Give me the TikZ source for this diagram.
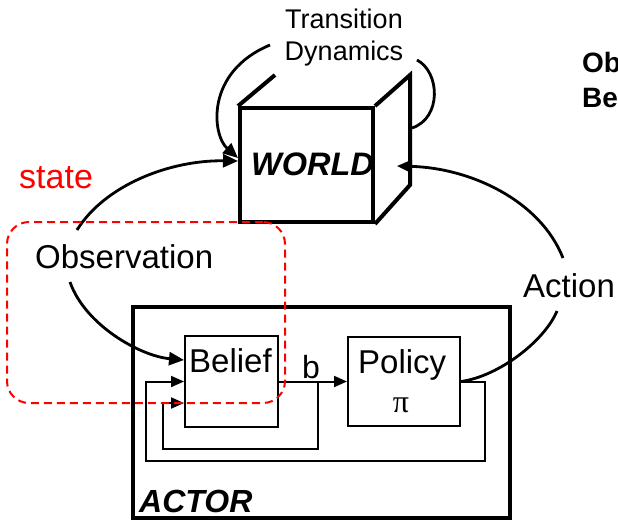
\documentclass[tikz,border=0pt]{standalone}
\usepackage{fontspec}
\setmainfont{Liberation Sans}
\newfontfamily\greekserif{Liberation Serif}
\usetikzlibrary{arrows.meta,calc}

\newcommand{\fs}[1]{\fontsize{#1pt}{#1pt}\selectfont}

\begin{document}
\begin{tikzpicture}[x=1pt,y=-1pt,
  lbl/.style={inner sep=0pt, anchor=base west},
  heavy/.style={line width=4pt, line join=miter},
  arcline/.style={line width=2.8pt},
  thinline/.style={line width=2pt},
  bigtip/.style={-{Triangle[length=15pt,width=13pt]}},
  smalltip/.style={-{Triangle[length=13pt,width=11pt]}},
  boxed/.style={draw, line width=2pt, inner sep=0pt},
]
\useasboundingbox (0,0) rectangle (618,520);

% ---------- the world cube ----------
\node[draw, heavy, inner sep=0pt, minimum width=133pt, minimum height=114pt] (front) at (306.5,165) {};
\coordinate (backtl) at (275,75);
\coordinate (backtr) at (410,75);
\coordinate (backbr) at (410,185);
\draw[heavy] (front.north west) -- (backtl);
\draw[heavy] (front.north east) -- (backtr) -- (backbr) -- (front.south east);
\node[lbl, font=\bfseries\itshape\fs{32.5}] (world) at (251,175) {WORLD};

% ---------- transition dynamics ----------
\node[lbl, anchor=base, font=\fs{27}] (trans1) at (344,28) {Transition};
\node[lbl, anchor=base, font=\fs{27}] (trans2) at (344,60) {Dynamics};
\coordinate (tdl) at (270,45);
\coordinate (tdr) at (417,60);
\coordinate (tdin) at (412,128);
\draw[arcline, bigtip] (tdl) .. controls (205,72) and (212,135) .. ([yshift=7pt]front.west);
\draw[arcline] (tdr) .. controls (440,72) and (442,118) .. (tdin);

% ---------- actor ----------
\node[draw, line width=4.5pt, inner sep=0pt, minimum width=377pt, minimum height=211pt] (actor) at (321.5,412.5) {};
\node[lbl, font=\bfseries\itshape\fs{32}] (actortxt) at (139,512) {ACTOR};

\node[boxed, minimum width=93pt, minimum height=91pt] (belief) at (231.5,381.5) {};
\node[lbl, font=\fs{33}] (belieftxt) at (189,372) {Belief};
\node[boxed, minimum width=112pt, minimum height=89pt] (policy) at (404,381.5) {};
\node[lbl, font=\fs{33}] (policytxt) at (358,373) {Policy};
\node[lbl, anchor=base, font=\greekserif\fs{32}] (pi) at (401,412) {π};
\node[lbl, font=\fs{32}] (btxt) at (302,378) {b};

\coordinate (split) at (318,381.5);
\draw[thinline, smalltip] (belief.east) -- (policy.west);
\draw[thinline, smalltip] (split) -- (318,449) -- (163,449) -- (163,403) -- ([yshift=-21.5pt]belief.west);
\draw[thinline, smalltip] (policy.east) -- (485,381.5) -- (485,461) -- (146,461) -- (146,381.5) -- (belief.west);

% ---------- observation ----------
\node[lbl, font=\fs{33}] (obs) at (35,268) {Observation};
\coordinate (obstop) at (77,230);
\coordinate (obsbot) at (70,282);
\draw[arcline, bigtip] (obstop) .. controls (105,185) and (170,160) .. ([yshift=4pt]front.west);
\draw[arcline, bigtip] (obsbot) .. controls (85,325) and (140,356) .. ([yshift=21.5pt]belief.west);

% ---------- action ----------
\node[lbl, font=\fs{33}] (action) at (523,297) {Action};
\coordinate (actlow) at (557,311);
\coordinate (acthigh) at (563,258);
\coordinate (actin) at (397,166);
\draw[arcline] (policy.east) .. controls (500,376) and (545,340) .. (actlow);
\draw[arcline, bigtip] (acthigh) .. controls (540,200) and (470,168) .. (actin);

% ---------- state region ----------
\node[draw=red, line width=2pt, dash pattern=on 8pt off 5pt, rounded corners=22pt,
      inner sep=0pt, minimum width=278pt, minimum height=181pt] (statebox) at (146,312.5) {};
\node[lbl, text=red, font=\fs{34}] (state) at (19,188) {state};

% ---------- heading at the page edge ----------
\begin{scope}
\clip (0,0) rectangle (618,520);
\node[lbl, font=\bfseries\fs{28}] (head1) at (582,72) {Ob};
\node[lbl, font=\bfseries\fs{28}] (head2) at (582,107) {Be};
\end{scope}
\end{tikzpicture}
\end{document}
